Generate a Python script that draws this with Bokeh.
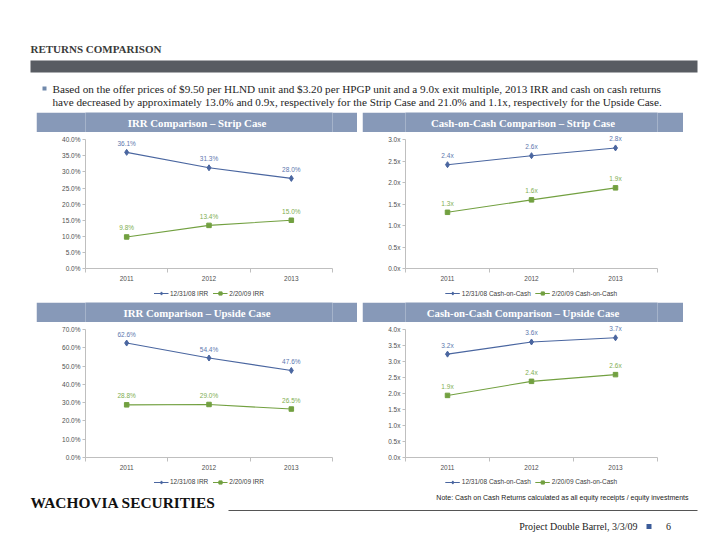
from bokeh.plotting import figure
from bokeh.layouts import column, row
from bokeh.models import (Range1d, SingleIntervalTicker, FixedTicker, PrintfTickFormatter,
                          Legend, LegendItem, Label, BoxAnnotation, Spacer, ColumnDataSource)
from bokeh.core.properties import value
from bokeh.embed import file_html
from bokeh.resources import INLINE

# ---------------- data ----------------
years = [2011, 2012, 2013]
irr_strip_prev = [36.1, 31.3, 28.0]
irr_strip_new = [9.8, 13.4, 15.0]
coc_strip_prev = [2.42, 2.63, 2.81]
coc_strip_new = [1.31, 1.60, 1.88]
irr_up_prev = [62.6, 54.4, 47.6]
irr_up_new = [28.8, 29.0, 26.5]
coc_up_prev = [3.23, 3.61, 3.74]
coc_up_new = [1.94, 2.38, 2.59]

irr_names = ["12/31/08 IRR", "2/20/09 IRR"]
coc_names = ["12/31/08 Cash-on-Cash", "2/20/09 Cash-on-Cash"]
chart_titles = ["IRR Comparison \u2013 Strip Case", "Cash-on-Cash Comparison \u2013 Strip Case",
                "IRR Comparison \u2013 Upside Case", "Cash-on-Cash Comparison \u2013 Upside Case"]

page_title = "RETURNS COMPARISON"
bullet_lines = ["Based on the offer prices of $9.50 per HLND unit and $3.20 per HPGP unit and a 9.0x exit multiple, 2013 IRR and cash on cash returns",
                "have decreased by approximately 13.0% and 0.9x, respectively for the Strip Case and 21.0% and 1.1x, respectively for the Upside Case."]
note_text = "Note: Cash on Cash Returns calculated as all equity receipts / equity investments"
brand = "WACHOVIA SECURITIES"
footer_text = "Project Double Barrel, 3/3/09"
page_no = "6"

# ---------------- style ----------------
BAND = "#8799B8"
BLUE = "#4A66A0"
BLUE_LBL = "#5D77AE"
GREEN = "#72A040"
GREEN_LBL = "#80AE52"
AXIS = "#BFBFBF"
TICK_TXT = "#505050"
SANS = "Liberation Sans"
SERIF = "Liberation Serif"
SMALL = "6.5px"


def plain(width, height):
    f = figure(width=width, height=height, x_range=Range1d(0, width), y_range=Range1d(height, 0),
               x_axis_type=None, y_axis_type=None, toolbar_location=None,
               output_backend="svg", min_border=0)
    f.outline_line_color = None
    f.background_fill_color = "white"
    f.border_fill_color = "white"
    return f


def band_fig(title, width, left, right):
    # frame aligned with the chart below; the title is centred on the whole band
    b = figure(width=width, height=20, x_range=Range1d(0, 1), y_range=Range1d(0, 1),
               x_axis_type=None, y_axis_type=None, toolbar_location=None,
               output_backend="svg", min_border=0,
               min_border_left=left, min_border_right=right)
    b.outline_line_color = None
    b.background_fill_color = BAND
    b.border_fill_color = BAND
    cx = (width / 2 - left) / (width - left - right)
    b.add_layout(Label(x=cx, y=0.5, text=title, text_align="center", text_baseline="middle",
                       text_color="white", text_font=SERIF, text_font_size="10.8px",
                       text_font_style="bold"))
    return b


def add_series(f, src):
    l1 = f.line("x", "prev", source=src, line_color=BLUE, line_width=1.1)
    s1 = f.scatter("x", "prev", source=src, marker="diamond", size=6,
                   fill_color=BLUE, line_color=BLUE)
    l2 = f.line("x", "new", source=src, line_color=GREEN, line_width=1.1)
    s2 = f.scatter("x", "new", source=src, marker="square", size=4.5,
                   fill_color=GREEN, line_color=GREEN)
    return (l1, s1), (l2, s2)


def legend_fig(src, names, width, height, left, right):
    # legend strip below a chart; its range excludes the data so only the legend shows
    f = figure(width=width, height=height, x_range=Range1d(0, 1), y_range=Range1d(0, 1),
               x_axis_type=None, y_axis_type=None, toolbar_location=None,
               output_backend="svg", min_border=0,
               min_border_left=left, min_border_right=right)
    f.outline_line_color = None
    r1, r2 = add_series(f, src)
    leg = Legend(items=[LegendItem(label=names[0], renderers=list(r1)),
                        LegendItem(label=names[1], renderers=list(r2))],
                 location="center", orientation="horizontal",
                 glyph_width=15, glyph_height=8, label_height=8, label_standoff=2,
                 spacing=4, padding=0, margin=0,
                 label_text_font=SANS, label_text_font_size=SMALL,
                 label_text_color="#404040",
                 border_line_color=None, background_fill_alpha=0)
    f.add_layout(leg)
    return f


def chart(prev, new, ymax, step, fmt, width, height, left, right, bottom, pad_px):
    frame_h = height - bottom
    y_end = ymax * frame_h / (frame_h - pad_px)
    p = figure(width=width, height=height,
               x_range=Range1d(years[0] - 0.5, years[-1] + 0.5), y_range=Range1d(0, y_end),
               toolbar_location=None, output_backend="svg",
               min_border_left=left, min_border_right=right,
               min_border_top=0, min_border_bottom=bottom)
    p.outline_line_color = None
    p.grid.visible = False

    src = ColumnDataSource(dict(
        x=years, prev=prev, new=new,
        prev_lbl=[fmt % v for v in prev], new_lbl=[fmt % v for v in new]))

    add_series(p, src)
    p.text("x", "prev", text="prev_lbl", source=src, y_offset=-9, text_align="center",
           text_baseline="middle", text_color=BLUE_LBL, text_font=value(SANS),
           text_font_size=SMALL)
    p.text("x", "new", text="new_lbl", source=src, y_offset=-9, text_align="center",
           text_baseline="middle", text_color=GREEN_LBL, text_font=value(SANS),
           text_font_size=SMALL)

    # y axis
    ya = p.yaxis[0]
    ya.ticker = SingleIntervalTicker(interval=step, num_minor_ticks=0)
    ya.formatter = PrintfTickFormatter(format=fmt)
    ya.bounds = (0, ymax)
    ya.axis_line_color = AXIS
    ya.major_tick_line_color = AXIS
    ya.major_tick_out = 3
    ya.major_tick_in = 0
    ya.minor_tick_line_color = None
    ya.major_label_standoff = 2
    ya.major_label_text_font = SANS
    ya.major_label_text_font_size = SMALL
    ya.major_label_text_color = TICK_TXT

    # x axis: labels at categories, ticks at category boundaries
    xa = p.xaxis[0]
    xa.ticker = FixedTicker(ticks=years,
                            minor_ticks=[y - 0.5 for y in years] + [years[-1] + 0.5])
    xa.major_label_overrides = {y: str(y) for y in years}
    xa.axis_line_color = AXIS
    xa.major_tick_line_color = None
    xa.major_tick_out = 0
    xa.major_tick_in = 0
    xa.minor_tick_line_color = AXIS
    xa.minor_tick_out = 4
    xa.minor_tick_in = 0
    xa.major_label_standoff = 3
    xa.major_label_text_font = SANS
    xa.major_label_text_font_size = SMALL
    xa.major_label_text_color = TICK_TXT
    return p, src


# ---------------- header (page coordinates) ----------------
header = plain(720, 112)
header.add_layout(Label(x=30, y=48, text=page_title, text_baseline="middle", text_align="left",
                        text_font=SERIF, text_font_size="11px", text_font_style="bold",
                        text_color="#3A3A3A"))
header.add_layout(BoxAnnotation(left=30, right=697, top=60, bottom=72,
                                fill_color="#585C62", fill_alpha=1, line_color=None))
header.add_layout(BoxAnnotation(left=42, right=46, top=86, bottom=90,
                                fill_color="#7189AB", fill_alpha=1, line_color=None))
for i, t in enumerate(bullet_lines):
    header.add_layout(Label(x=52, y=88 + 13 * i, text=t, text_baseline="middle",
                            text_align="left", text_font=SERIF, text_font_size="11.2px",
                            text_color="#1E1E1E"))

# ---------------- charts ----------------
LW, LR = 49, 25   # left charts: borders around the plot frame
RW, RR = 43, 26   # right charts
pA, srcA = chart(irr_strip_prev, irr_strip_new, 40, 5, "%.1f%%", 321, 152, LW, LR, 16, 7.3)
pB, srcB = chart(coc_strip_prev, coc_strip_new, 3, 0.5, "%.1fx", 321, 152, RW, RR, 16, 7.3)
pC, srcC = chart(irr_up_prev, irr_up_new, 70, 10, "%.1f%%", 321, 151, LW, LR, 16, 7)
pD, srcD = chart(coc_up_prev, coc_up_new, 4, 0.5, "%.1fx", 321, 151, RW, RR, 16, 7)

row1 = row(Spacer(width=36, height=190),
           column(band_fig(chart_titles[0], 321, LW, LR), pA,
                  legend_fig(srcA, irr_names, 321, 18, LW, LR), spacing=0),
           Spacer(width=5, height=190),
           column(band_fig(chart_titles[1], 321, RW, RR), pB,
                  legend_fig(srcB, coc_names, 321, 18, RW, RR), spacing=0),
           spacing=0)
row2 = row(Spacer(width=36, height=188),
           column(band_fig(chart_titles[2], 321, LW, LR), pC,
                  legend_fig(srcC, irr_names, 321, 17, LW, LR), spacing=0),
           Spacer(width=5, height=188),
           column(band_fig(chart_titles[3], 321, RW, RR), pD,
                  legend_fig(srcD, coc_names, 321, 17, RW, RR), spacing=0),
           spacing=0)

# ---------------- footer (page y - 490) ----------------
footer = plain(720, 66)
footer.add_layout(Label(x=30, y=12, text=brand, text_baseline="middle", text_align="left",
                        text_font=SERIF, text_font_size="15.4px", text_font_style="bold",
                        text_color="#111111"))
footer.add_layout(BoxAnnotation(left=228, right=697, top=19.5, bottom=20.5,
                                fill_color="#555555", fill_alpha=1, line_color=None))
footer.add_layout(BoxAnnotation(left=646, right=651, top=33.5, bottom=38.5,
                                fill_color="#3C5C99", fill_alpha=1, line_color=None))
footer.add_layout(Label(x=688, y=7, text=note_text, text_baseline="middle", text_align="right",
                        text_font=SANS, text_font_size="7px", text_color="#222222"))
footer.add_layout(Label(x=637, y=36, text=footer_text, text_baseline="middle", text_align="right",
                        text_font=SERIF, text_font_size="10px", text_color="#222222"))
footer.add_layout(Label(x=668, y=36, text=page_no, text_baseline="middle", text_align="center",
                        text_font=SERIF, text_font_size="10px", text_color="#222222"))

layout = column(header, row1, row2, footer, spacing=0)

with open("out.html", "w") as fh:
    fh.write(file_html(layout, INLINE))
